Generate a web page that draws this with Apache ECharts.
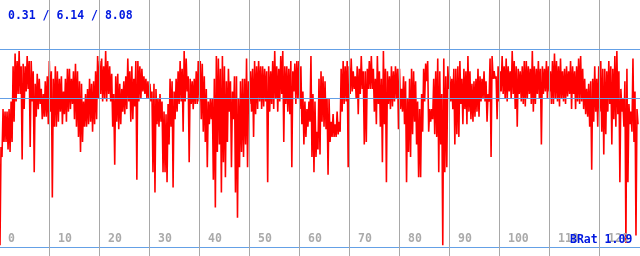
<!DOCTYPE html>
<html>
<head>
<meta charset="utf-8">
<script src="https://cdn.jsdelivr.net/npm/echarts@6/dist/echarts.min.js"></script>
<style>
  html, body { margin: 0; padding: 0; background: #fff; }
  #chart { width: 640px; height: 256px; }
</style>
</head>
<body>
<div id="chart"></div>
<script>
// upper / lower value of the trace in each ~2px column
var hiVals = [
  4.2, 4.2, 5.7, 5.6, 5.6, 5.7, 6.0, 7.4, 7.9, 7.6, 8.0, 7.4, 7.5, 7.4, 7.8, 7.6, 7.6, 7.2, 6.7, 7.1,
  6.9, 6.5, 6.3, 6.8, 7.0, 7.6, 7.2, 6.9, 7.4, 7.2, 6.9, 7.0, 6.4, 6.9, 7.3, 7.3, 6.9, 7.2, 7.5, 7.2,
  6.8, 6.7, 6.0, 6.3, 6.5, 6.9, 6.7, 6.8, 7.2, 7.8, 7.6, 7.7, 7.4,
  8.0, 7.6, 7.4, 7.1, 6.3, 7.0, 7.1, 6.7, 6.5, 6.8, 7.0, 7.7, 7.2, 7.4, 6.9, 7.6, 7.6, 7.4, 7.3, 7.0,
  6.9, 6.8, 6.7, 6.4, 6.7, 6.5, 6.1, 6.3, 6.0, 5.6, 5.5, 5.9, 6.9, 6.8, 6.4, 6.9, 7.2, 7.6, 7.3, 8.0,
  7.7, 7.0, 6.9, 6.8, 6.9, 7.2, 7.6, 7.6, 7.5, 7.0, 6.5, 6.0, 6.1,
  6.1, 6.9, 7.8, 7.7, 7.3, 7.8, 7.4, 6.8, 7.3, 6.8, 6.4, 7.0, 7.0, 6.1, 6.8, 6.9, 6.9, 7.7, 6.8, 7.2,
  7.3, 7.6, 7.4, 7.6, 7.4, 7.4, 7.3, 7.2, 7.4, 7.2, 7.6, 8.0, 7.4, 7.3, 7.8, 8.0, 7.4, 7.4, 7.3, 7.6,
  7.2, 7.5, 7.6, 7.6, 7.4, 6.4, 6.0, 5.7, 6.0, 7.8, 6.3, 6.0, 4.8,
  6.9, 7.2, 7.0, 6.8, 6.1, 6.1, 5.2, 5.5, 5.1, 5.6, 5.2, 7.3, 7.6, 7.4, 7.6, 7.4, 7.7, 7.2, 7.0, 7.4,
  7.3, 7.8, 7.2, 7.2, 7.3, 7.6, 7.8, 7.3, 6.9, 7.8, 7.2, 6.9, 8.0, 7.3, 7.2, 7.0, 7.4, 7.2, 7.4, 7.3,
  7.3, 6.5, 7.0, 6.8, 6.1, 6.9, 7.3, 7.2, 6.8, 6.0, 5.7, 6.3, 7.3,
  7.5, 7.6, 5.7, 5.7, 6.9, 7.2, 7.7, 7.2, 6.3, 7.7, 7.0, 7.4, 7.0, 6.9, 7.3, 7.3, 7.4, 7.6, 6.9, 7.3,
  7.2, 7.8, 7.2, 6.7, 6.8, 6.9, 7.3, 7.0, 6.9, 7.2, 6.8, 6.3, 7.7, 7.8, 7.2, 7.0, 7.4, 7.2, 7.8, 7.4,
  7.7, 7.4, 7.2, 8.0, 7.6, 7.4, 7.3, 7.2, 7.4, 7.6, 7.6, 7.4, 7.3,
  8.0, 7.4, 7.3, 7.6, 7.3, 7.4, 7.3, 7.6, 7.4, 7.2, 7.6, 7.9, 7.6, 7.4, 7.7, 7.2, 7.3, 7.4, 7.2, 7.6,
  7.4, 7.2, 7.4, 7.7, 7.8, 7.3, 6.9, 6.5, 6.7, 6.8, 6.9, 7.4, 6.9, 7.4, 7.6, 7.3, 7.3, 7.2, 7.6, 7.4,
  7.3, 7.8, 8.0, 7.2, 6.5, 6.1, 6.8, 7.3, 5.9, 5.6, 7.7, 6.4, 5.7
];
var loVals = [
  0.31, 3.8, 4.4, 4.4, 4.1, 4.0, 4.4, 5.2, 6.0, 6.3, 6.3, 3.7, 5.7, 6.4, 6.5, 4.2, 6.0, 3.2, 5.4, 5.7,
  5.9, 5.3, 5.4, 5.4, 5.1, 5.6, 2.2, 5.0, 5.0, 5.2, 5.6, 5.1, 5.5, 5.2, 5.6, 5.7, 5.9, 5.3, 5.0, 4.6,
  4.0, 4.4, 5.0, 5.0, 5.1, 5.2, 4.8, 5.1, 5.3, 6.1, 6.3, 6.0, 6.1,
  6.0, 6.3, 6.0, 5.0, 3.5, 5.2, 4.9, 5.1, 5.6, 5.5, 5.7, 6.0, 5.2, 5.3, 5.8, 2.9, 6.0, 6.1, 6.4, 6.3,
  6.1, 6.1, 6.0, 3.2, 2.4, 5.1, 5.0, 5.2, 3.2, 3.2, 2.8, 4.3, 5.0, 2.6, 5.3, 5.6, 5.9, 6.0, 4.8, 6.0,
  6.4, 3.6, 5.9, 5.7, 5.9, 5.9, 6.0, 5.3, 4.8, 4.4, 3.4, 5.1, 5.3,
  2.9, 1.8, 4.0, 4.3, 2.4, 3.6, 3.0, 4.4, 5.6, 3.4, 5.3, 2.4, 1.4, 3.4, 4.0, 3.8, 4.3, 3.4, 5.9, 5.6,
  4.6, 5.5, 5.7, 6.0, 5.7, 5.8, 6.0, 2.8, 5.6, 5.9, 5.7, 6.1, 5.6, 6.0, 6.3, 4.4, 5.9, 5.6, 5.5, 3.4,
  6.4, 5.9, 6.1, 5.7, 5.1, 4.3, 4.6, 5.0, 5.2, 3.8, 3.2, 3.8, 4.1,
  3.9, 5.2, 5.0, 4.9, 3.1, 4.4, 4.6, 4.6, 4.6, 4.7, 4.8, 5.6, 5.9, 6.0, 3.4, 6.3, 6.4, 6.5, 6.1, 5.5,
  6.3, 6.5, 4.3, 4.4, 6.5, 6.5, 6.5, 5.6, 5.1, 5.9, 5.0, 3.6, 5.1, 2.8, 5.9, 5.7, 5.8, 6.0, 6.1, 4.9,
  5.7, 5.6, 5.1, 2.8, 4.0, 3.8, 4.7, 5.2, 4.3, 3.0, 3.0, 4.8, 6.0,
  6.8, 4.8, 5.2, 5.3, 4.7, 4.6, 3.2, 4.3, 0.31, 3.2, 3.4, 6.5, 6.0, 5.7, 4.3, 4.7, 4.6, 5.9, 5.1, 5.7,
  5.1, 5.6, 5.3, 5.2, 5.4, 5.6, 5.4, 6.0, 6.1, 6.0, 5.2, 6.0, 3.8, 6.9, 6.9, 5.3, 6.0, 6.4, 6.3, 6.1,
  6.0, 6.4, 6.1, 6.3, 5.7, 5.0, 6.3, 6.0, 5.9, 5.8, 6.1, 6.3, 5.9,
  5.6, 5.9, 6.3, 6.1, 4.3, 6.3, 6.4, 6.1, 6.4, 5.9, 5.9, 6.1, 6.0, 5.8, 6.1, 6.0, 5.9, 6.2, 6.3, 5.7,
  6.3, 5.7, 6.0, 5.9, 6.0, 5.7, 5.5, 5.4, 5.0, 3.3, 5.2, 5.6, 5.0, 5.6, 4.8, 3.9, 4.7, 5.6, 5.9, 4.3,
  5.3, 5.0, 5.5, 2.8, 5.6, 5.0, 0.4, 2.8, 5.1, 4.8, 4.4, 0.7, 5.1
];
// reference levels shown in the header: min / avg / max
var statMin = 0.31, statAvg = 6.14, statMax = 8.08;
var bRat = 1.09;
var xMax = 128;

var traceData = [];
var colStep = xMax / hiVals.length;
for (var i = 0; i < hiVals.length; i++) {
  traceData.push([i * colStep, hiVals[i]]);
  traceData.push([i * colStep + colStep / 2, loVals[i]]);
}

var chart = echarts.init(document.getElementById('chart'), null, { renderer: 'canvas' });
var monoFont = '"DejaVu Sans Mono", monospace';

var option = {
  animation: false,
  backgroundColor: '#ffffff',
  // grid runs a little past the right edge so that 10 units = 50px
  grid: { left: -1, top: 0, width: 650, height: 247, outerBoundsMode: 'none', containLabel: false },
  xAxis: {
    type: 'value',
    min: 0,
    max: 130,
    interval: 10,
    z: 5,
    axisLine: { show: true, lineStyle: { color: '#64a0e6', width: 1 } },
    axisTick: { show: true, inside: false, length: 9, lineStyle: { color: '#a8a8a8' } },
    splitLine: { show: true, lineStyle: { color: '#a8a8a8', width: 1 } },
    axisLabel: {
      inside: true,
      margin: 2,
      align: 'left',
      padding: [0, 0, 0, 9],
      color: '#aaaaaa',
      fontFamily: monoFont,
      fontWeight: 'bold',
      fontSize: 11.5,
      showMaxLabel: false
    }
  },
  yAxis: {
    type: 'value',
    min: 0.24,
    max: 10.02,
    show: false,
    splitLine: { show: false }
  },
  series: [{
    type: 'line',
    data: traceData,
    showSymbol: false,
    symbol: 'none',
    sampling: null,
    lineStyle: { color: '#ff0000', width: 1.6 },
    markLine: {
      silent: true,
      symbol: 'none',
      z: 6,
      label: { show: false },
      lineStyle: { color: '#64a0e6', type: 'solid', width: 1 },
      data: [{ yAxis: statAvg }, { yAxis: statMax }]
    }
  }],
  graphic: [
    {
      type: 'text',
      left: 8,
      top: 10,
      z: 10,
      style: {
        text: statMin.toFixed(2) + ' / ' + statAvg.toFixed(2) + ' / ' + statMax.toFixed(2),
        fill: '#0018e0',
        font: 'bold 11.5px ' + monoFont
      }
    },
    {
      type: 'text',
      left: 570,
      top: 234,
      z: 10,
      style: {
        text: 'BRat ' + bRat.toFixed(2),
        fill: '#0018e0',
        font: 'bold 11.5px ' + monoFont
      }
    }
  ]
};

chart.setOption(option);
</script>
</body>
</html>
